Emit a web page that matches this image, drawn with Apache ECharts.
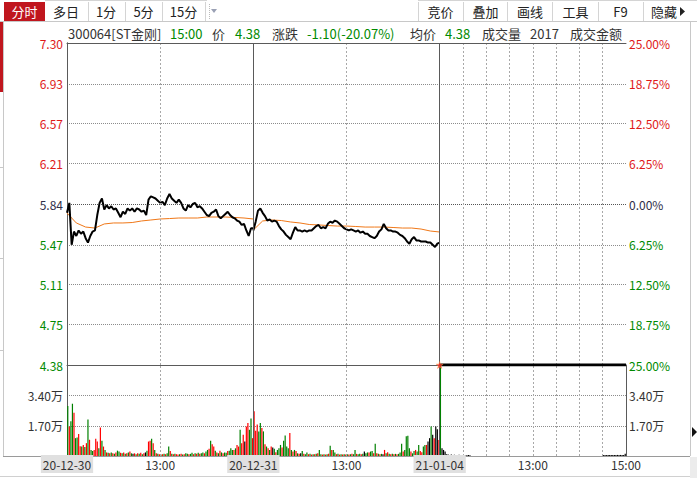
<!DOCTYPE html>
<html><head><meta charset="utf-8">
<script src="https://cdn.jsdelivr.net/npm/echarts@6/dist/echarts.min.js"></script>
<style>html,body{margin:0;padding:0;background:#fff}#c{width:697px;height:478px}</style>
</head><body><div id="c"></div>
<script>
// ---------- tick labels ----------
const priceTicks = ['4.38','4.75','5.11','5.47','5.84','6.21','6.57','6.93','7.30'];
const pctTicks   = ['25.00%','18.75%','12.50%','6.25%','0.00%','6.25%','12.50%','18.75%','25.00%'];
const volTicks   = ['', '1.70万', '3.40万', ''];
const timeTicks  = ['20-12-30','13:00','20-12-31','13:00','21-01-04','13:00','15:00'];
const dateTickIdx = [0, 2, 4];
const preClose = 5.84;
const priceLevels = [4.75, 5.11, 5.47, 6.21, 6.57, 6.93];
const volLevels = [1.7, 3.4];

// ---------- price (one value every 3 minutes, 9:30..15:00) ----------
const day1Price = [5.76,5.85,5.47,5.59,5.55,5.60,5.57,5.59,5.53,5.49,
 5.55,5.59,5.60,5.74,5.85,5.89,5.79,5.83,5.80,5.82,
 5.79,5.80,5.76,5.72,5.77,5.75,5.80,5.78,5.80,5.77,
 5.80,5.79,5.77,5.78,5.74,5.88,5.91,5.90,5.89,5.87,
 5.85,5.86,5.83,5.89,5.93,5.89,5.87,5.85,5.88,5.85,
 5.80,5.78,5.83,5.81,5.84,5.85,5.81,5.82,5.80,5.77,
 5.74,5.73,5.76,5.77,5.79,5.73,5.71,5.73,5.75,5.77,
 5.74,5.72,5.71,5.69,5.68,5.65,5.66,5.60,5.55,5.62,
 5.62];
const day2Price = [5.60,5.68,5.78,5.80,5.76,5.73,5.69,5.70,5.68,5.69,
 5.68,5.64,5.61,5.59,5.56,5.54,5.52,5.58,5.63,5.60,
 5.60,5.59,5.60,5.59,5.60,5.60,5.62,5.64,5.65,5.62,
 5.63,5.62,5.66,5.68,5.67,5.69,5.68,5.66,5.64,5.62,
 5.61,5.60,5.61,5.60,5.59,5.60,5.58,5.59,5.57,5.57,
 5.55,5.54,5.53,5.55,5.59,5.61,5.66,5.62,5.60,5.60,
 5.59,5.59,5.58,5.56,5.55,5.53,5.50,5.48,5.52,5.54,
 5.51,5.51,5.50,5.50,5.50,5.49,5.49,5.47,5.45,5.48,
 5.49];
const day3Price = [4.38, 4.38]; // open and close, flat all day

// ---------- average price (one value every 12 minutes) ----------
const day1Avg = [5.758,5.668,5.631,5.622,5.659,5.668,5.668,5.672,5.686,5.695,5.704,5.708,5.713,5.713,5.713,5.722,5.722,5.722,5.718,5.713,5.704];
const day2Avg = [5.604,5.686,5.695,5.690,5.677,5.668,5.654,5.650,5.645,5.640,5.640,5.636,5.631,5.631,5.631,5.627,5.622,5.622,5.613,5.595,5.586];
const day3Avg = [4.38, 4.38];

// ---------- volume in 万手 (one bar every 2 minutes) + colour code r/g/k ----------
const day1Vol = [2.80,1.66,1.95,2.93,2.42,1.00,1.04,1.23,0.55,0.53,
 0.62,0.50,0.72,2.04,0.91,0.34,0.28,0.34,0.96,0.81,
 0.43,1.60,0.85,0.53,0.34,0.20,0.18,0.15,0.20,0.15,
 0.12,0.20,0.30,0.25,0.18,0.15,0.20,0.12,0.15,0.20,
 0.25,0.15,0.12,0.15,0.10,0.15,0.12,0.18,0.10,0.15,
 0.20,0.30,0.81,0.85,0.96,0.72,0.34,0.15,0.12,0.10,
 0.08,0.10,0.12,0.10,0.15,0.53,0.28,0.12,0.10,0.12,
 0.10,0.08,0.10,0.12,0.08,0.10,0.15,0.12,0.10,0.12,
 0.18,0.10,0.15,0.12,0.18,0.12,0.15,0.20,0.15,0.25,
 0.34,0.40,0.85,0.66,0.53,0.30,0.20,0.15,0.30,0.20,
 0.15,0.20,0.18,0.28,0.30,0.43,0.34,0.34,0.43,0.62,
 0.53,1.47,0.72,1.19,0.81,1.66,1.85,1.47,2.10,1.00];
const day1Col = 'grggrggrrg'+'rgrgrggrrr'+'grgrgrgrgr'+'grggrgrgrg'+'rgkrgrgrgr'+'kgrrgrgrgr'+
                'grgrggrgrg'+'rrgrgrggrg'+'grgrgrggrg'+'grgrrgrgrg'+'rggrgggrgr'+'rgrrkrrggr';
const day2Vol = [2.51,1.42,1.76,1.38,1.85,1.57,1.38,0.66,0.53,0.43,
 0.34,0.53,0.47,0.40,0.21,0.34,0.43,0.62,0.47,0.85,
 1.15,0.53,0.43,1.29,0.34,0.25,0.34,0.28,0.15,0.12,
 0.15,0.28,0.12,0.10,0.20,0.10,0.12,0.08,0.10,0.10,
 0.12,0.15,0.34,0.10,0.08,0.10,0.08,0.10,0.12,0.57,
 0.34,0.34,0.20,0.10,0.12,0.08,0.10,0.08,0.10,0.08,
 0.10,0.08,0.10,0.12,0.10,0.34,0.12,0.10,0.12,0.10,
 0.12,0.25,0.15,0.20,0.20,0.25,0.28,0.15,0.68,0.15,
 0.12,0.10,0.12,0.10,0.34,0.15,0.21,0.12,0.10,0.12,
 0.10,0.12,0.10,0.12,0.20,0.68,0.25,0.34,1.10,1.13,
 0.43,0.25,0.15,0.28,0.34,0.25,0.62,0.28,0.21,0.53,
 0.62,0.62,0.81,1.00,1.66,1.19,1.00,1.66,1.50,0.90];
const day2Col = 'rrrggrgrgr'+'grkgrgggrg'+'gggrgrgrgr'+'kgrggrgrgr'+'grggrgrgrg'+'rggrgrgrgr'+
                'grgrggrggr'+'gkggrggrgr'+'grgkrgrgrg'+'rgrgggrggg'+'grggrggrrg'+'grkkgkrkkr';
const day3Vol = [5.10,0.44,0.34,0.25,0.10,0.08,0.06,0.08,0.05,0.07,
 0.06,0.05,0.07,0.05,0.06,0.05,0.06,0.04,0.05,0.04,
 0,0,0,0,0,0,0,0,0,0, 0,0,0,0,0,0,0,0,0,0,
 0,0,0,0,0,0,0,0,0,0, 0,0,0,0,0,0,0,0,0,0,
 0,0,0,0,0,0,0,0,0,0, 0,0,0,0,0,0,0,0,0,0,
 0,0,0,0,0,0,0,0,0,0, 0,0,0,0,0,0,0,0,0,0,
 0,0,0,0,0,0.05,0.06,0.05,0.06,0.05,
 0.06,0.05,0.06,0.05,0.06,0.05,0.06,0.05,0.06,0.12];
const day3Col = 'g' + 'k'.repeat(119);

// ---------- styling ----------
const FONT = '"Noto Sans CJK SC","Noto Sans",sans-serif';
const RED = '#e01818', GREEN = '#008a00', DARK = '#2e2e48';
const BAR = {r:'#ff0000', g:'#008000', k:'#000000'};
const AXIS = '#5a5a5a';
const vdot = () => ({color:'#a8a8a8', type:[2,2], width:1});
const sep = () => ({color:AXIS, type:'solid', width:1});

const perDay = 240;
const line = (arr, day, step) => arr.map((p, i) => [day*perDay + i*step, p]);
const vols = [[day1Vol,day1Col],[day2Vol,day2Col],[day3Vol,day3Col]];
const volData = [];
vols.forEach(([v,c], d) => v.forEach((val, i) => {
  volData.push({value:[d*perDay + i*2 + 1, val], itemStyle:{color: BAR[c[i]]}});
}));

const vLineDefs = [[240,'s'],[480,'s'],[120,'d'],[360,'d'],[600,'d'],[510,'d'],[540,'d'],[570,'d'],[630,'d'],[660,'d'],[690,'d']];
const vLines = () => vLineDefs.map(([x,k]) => ({xAxis:x, lineStyle: k === 's' ? sep() : vdot()}));
const mk = () => ({silent:true, symbol:['none','none'], label:{show:false}, animation:false, data: vLines()});

const pIdx = v => Math.round((v - 4.38) / 0.365);
const pColor = v => { const i = pIdx(v); return i > 4 ? RED : (i === 4 ? DARK : GREEN); };

// ---------- graphic helpers (outer UI) ----------
const G = [];
const gl = (x1,y1,x2,y2,c,dash) => G.push({type:'line', silent:true, shape:{x1,y1,x2,y2},
  style:{stroke:c, lineWidth:1, lineDash:dash||null}});
const gt = (x,y,text,color,align,size) => G.push({type:'text', silent:true, x, y,
  style:{text, fill:color, font:(size||13)+'px '+FONT, align:align||'left', verticalAlign:'middle'}});
const gr = (x,y,w,h,c) => G.push({type:'rect', silent:true, shape:{x,y,width:w,height:h}, style:{fill:c}});

// toolbar
gl(45,0.5,207,0.5,'#d4d4d4'); gl(418,0.5,697,0.5,'#d4d4d4');
gl(0,21.5,697,21.5,'#c8c8c8');
gr(4,2,41,19,'#c0161e');
gt(24.5,11.5,'分时','#ffffff','center');
gt(66,11.5,'多日','#222','center');
gt(106,11.5,'1分','#222','center');
gt(143.5,11.5,'5分','#222','center');
gt(183.5,11.5,'15分','#222','center');
[88.5,125.5,162.5,205.5].forEach(x => gl(x,2,x,21,'#d4d4d4'));
gl(209.5,4,209.5,19,'#bbbbbb',[1,1]);
G.push({type:'polygon', silent:true, shape:{points:[[211,9],[217,9],[214,13]]}, style:{fill:'#9aa0b4'}});
[418.5,463.5,507.5,552.5,598.5,643.5].forEach(x => gl(x,2,x,21,'#d4d4d4'));
gt(440.5,11.5,'竞价','#222','center');
gt(485.5,11.5,'叠加','#222','center');
gt(530,11.5,'画线','#222','center');
gt(575.5,11.5,'工具','#222','center');
gt(620.5,11.5,'F9','#222','center');
gt(664,11.5,'隐藏','#222','center');
G.push({type:'polygon', silent:true, shape:{points:[[680,7],[685,11.5],[680,16]]}, style:{fill:'#222'}});

// header line
gt(68,33,'300064[ST金刚]','#333');
gt(170,33,'15:00',GREEN);
gt(212,33,'价','#333');
gt(235,33,'4.38',GREEN);
gt(272,33,'涨跌','#333');
gt(307,33,'-1.10(-20.07%)',GREEN);
gt(410,33,'均价','#333');
gt(445,33,'4.38',GREEN);
gt(482,33,'成交量','#333');
gt(530,33,'2017','#333');
gt(570,33,'成交金额','#333');

// frame around
gr(0,22,3,70,'#c0161e');
gl(3.5,22,3.5,456,'#c8c8c8');
[167.5,258.5,350.5].forEach(y => gl(0,y,3,y,'#c8c8c8'));
gl(690.5,22,690.5,456,'#c8c8c8');
G.push({type:'polygon', silent:true, shape:{points:[[692,427],[697,432],[692,437]]}, style:{fill:'#111'}});
gr(690,457,7,21,'#ececec');
gl(3,456.5,690,456.5,'#9a9a9a');
gl(0,476.5,690,476.5,'#d0d0d0');

const axisFont = {fontFamily:FONT, fontSize:12};
const option = {
  animation:false,
  backgroundColor:'#ffffff',
  grid:[{left:67, top:43, width:559, height:322},{left:67, top:365, width:559, height:91}],
  xAxis:[
    {gridIndex:0, type:'value', min:0, max:720, interval:120, position:'bottom', z:5,
     axisLine:{show:true, lineStyle:{color:AXIS}}, axisTick:{show:false}, axisLabel:{show:false}, splitLine:{show:false}},
    {gridIndex:0, type:'value', min:0, max:720, interval:120, position:'top', z:5,
     axisLine:{show:true, lineStyle:{color:AXIS}}, axisTick:{show:false}, axisLabel:{show:false}, splitLine:{show:false}},
    {gridIndex:1, type:'value', min:0, max:720, interval:120, position:'bottom', z:5,
     axisLine:{show:true, lineStyle:{color:'#9a9a9a'}}, axisTick:{show:false}, splitLine:{show:false},
     axisLabel:{show:true, margin:2, showMinLabel:true, showMaxLabel:true,
       formatter: v => { const i = Math.round(v/120); return dateTickIdx.includes(i) ? '{d|'+timeTicks[i]+'}' : '{t|'+timeTicks[i]+'}'; },
       rich:{ d:{backgroundColor:'#e0e0e0', padding:[3,2,3,2], color:'#333', fontSize:12, fontFamily:FONT, lineHeight:12},
              t:{padding:[3,2,3,2], color:'#333', fontSize:12, fontFamily:FONT, lineHeight:12} } }}
  ],
  yAxis:[
    {gridIndex:0, type:'value', position:'left', min:4.38, max:7.30, interval:0.365,
     axisLine:{show:true, lineStyle:{color:AXIS}}, axisTick:{show:false}, splitLine:{show:false},
     axisLabel:Object.assign({margin:4, formatter: v => priceTicks[pIdx(v)], color: v => pColor(v)}, axisFont)},
    {gridIndex:0, type:'value', position:'right', min:4.38, max:7.30, interval:0.365,
     axisLine:{show:true, lineStyle:{color:AXIS}}, axisTick:{show:false}, splitLine:{show:false},
     axisLabel:Object.assign({margin:3, formatter: v => pctTicks[pIdx(v)], color: v => pColor(v)}, axisFont)},
    {gridIndex:1, type:'value', position:'left', min:0, max:5.1, interval:1.7,
     axisLine:{show:true, lineStyle:{color:AXIS}}, axisTick:{show:false}, splitLine:{show:false},
     axisLabel:Object.assign({margin:4, formatter: v => volTicks[Math.round(v/1.7)], color:'#333'}, axisFont)},
    {gridIndex:1, type:'value', position:'right', min:0, max:5.1, interval:1.7,
     axisLine:{show:true, lineStyle:{color:AXIS}}, axisTick:{show:false}, splitLine:{show:false},
     axisLabel:Object.assign({margin:3, formatter: v => volTicks[Math.round(v/1.7)], color:'#333'}, axisFont)}
  ],
  series:[
    {type:'scatter', xAxisIndex:0, yAxisIndex:0, data:[], z:1, symbolSize:0, markLine: mk()},
    {type:'line', xAxisIndex:0, yAxisIndex:0, data:line(day1Avg,0,12), showSymbol:false, z:2, lineStyle:{color:'#f07818', width:1}},
    {type:'line', xAxisIndex:0, yAxisIndex:0, data:line(day2Avg,1,12), showSymbol:false, z:2, lineStyle:{color:'#f07818', width:1}},
    {type:'line', xAxisIndex:0, yAxisIndex:0, data:line(day3Avg,2,240), showSymbol:false, z:2, lineStyle:{color:'#f07818', width:1}},
    {type:'line', xAxisIndex:0, yAxisIndex:0, data:line(day1Price,0,3), showSymbol:false, z:3, lineStyle:{color:'#000', width:2}},
    {type:'line', xAxisIndex:0, yAxisIndex:0, data:line(day2Price,1,3), showSymbol:false, z:3, lineStyle:{color:'#000', width:2}},
    {type:'line', xAxisIndex:0, yAxisIndex:0, data:line(day3Price,2,240), showSymbol:false, z:6, lineStyle:{color:'#000', width:3}},
    {type:'scatter', xAxisIndex:2, yAxisIndex:2, data:[], z:1, symbolSize:0, markLine: mk()},
    {type:'bar', xAxisIndex:2, yAxisIndex:2, data:volData, barWidth:1.2, z:3},
    {type:'scatter', xAxisIndex:0, yAxisIndex:0, data:[[480, 4.38]], z:7,
     symbol:'path://M0,-10L2.4,-3.1L9.5,-3.1L3.8,1.2L5.9,8.1L0,4L-5.9,8.1L-3.8,1.2L-9.5,-3.1L-2.4,-3.1Z',
     symbolSize:7, itemStyle:{color:'#ff2a2a', borderColor:'#ff9a40', borderWidth:0.5}}
  ],
  graphic:{elements:G}
};
const chart = echarts.init(document.getElementById('c'), null, {renderer:'svg'});
chart.setOption(option);

// horizontal reference lines placed through the axes' own scales
const xL = chart.convertToPixel({xAxisIndex:0}, 0);
const xR = chart.convertToPixel({xAxisIndex:0}, 720);
const H = [];
const addH = (yPix, color) => {
  const y = Math.round(yPix) + 0.5;
  H.push({type:'line', silent:true, shape:{x1:xL, y1:y, x2:xR, y2:y},
          style:{stroke:color, lineWidth:1, lineDash:[1,1]}});
};
priceLevels.forEach(p => addH(chart.convertToPixel({yAxisIndex:0}, p), '#8c8c8c'));
addH(chart.convertToPixel({yAxisIndex:0}, preClose), '#555555');
volLevels.forEach(v => addH(chart.convertToPixel({yAxisIndex:2}, v), '#8c8c8c'));
chart.setOption({graphic:{elements: G.concat(H)}});
</script>
</body></html>
